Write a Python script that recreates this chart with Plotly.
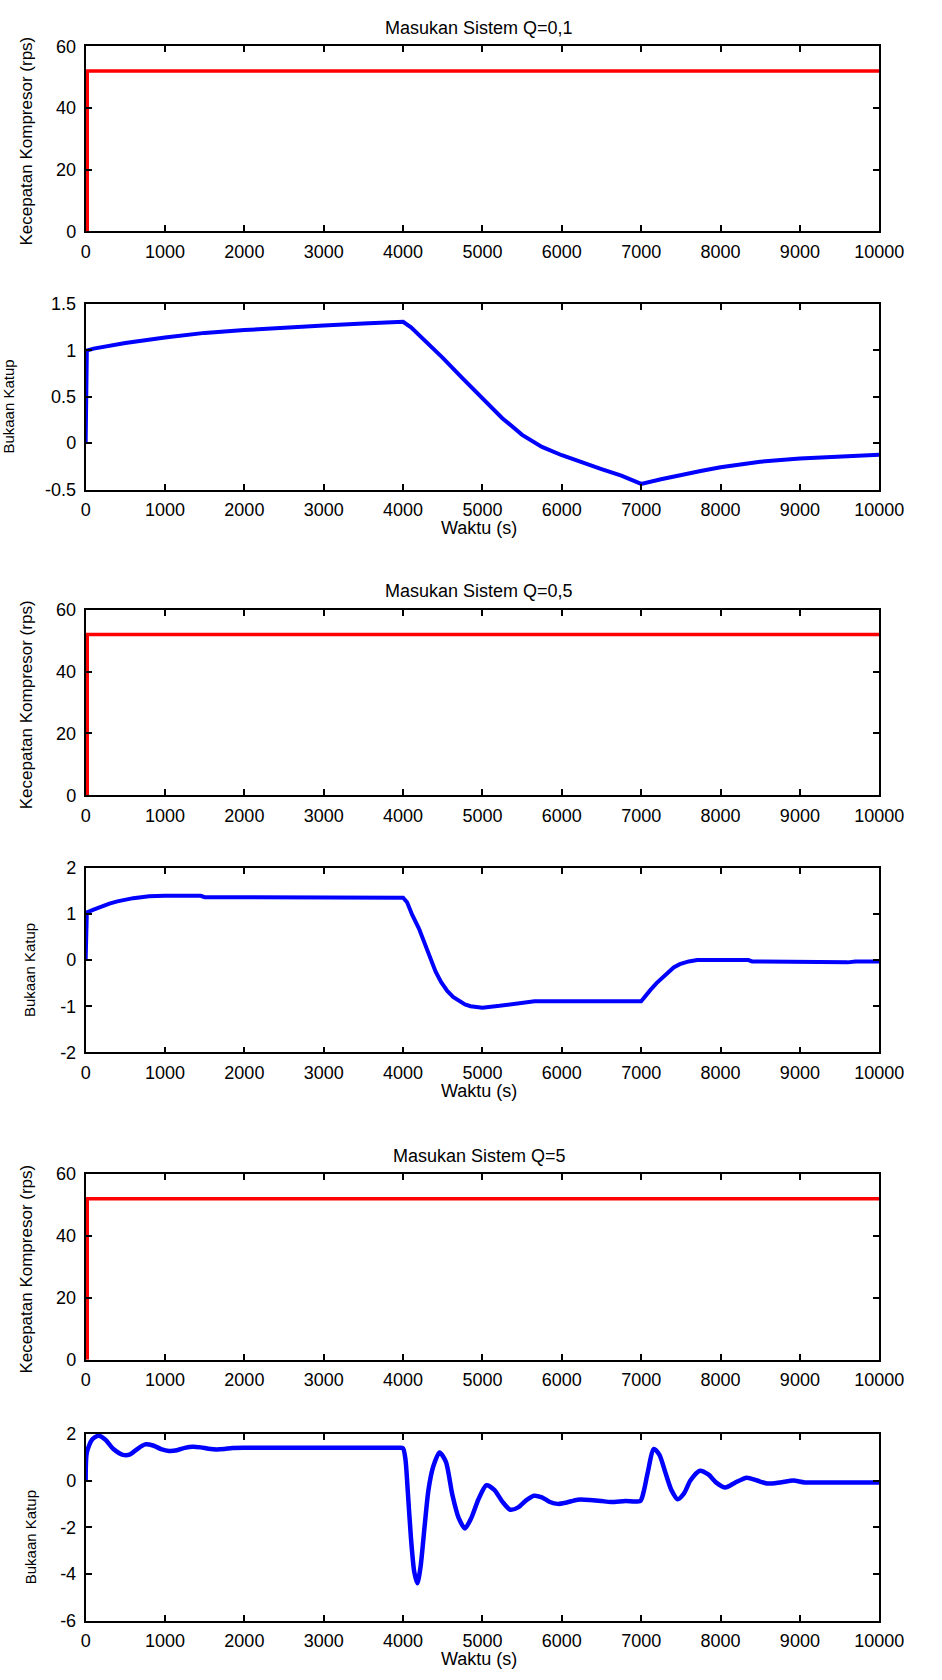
import plotly.graph_objects as go

# ---------------- data ----------------
time_ticks = [0, 1000, 2000, 3000, 4000, 5000, 6000, 7000, 8000, 9000, 10000]

# compressor speed (rps) - identical step for the three cases
t_speed = [20, 20, 10000]
speed_q01 = [0, 52, 52]
speed_q05 = [0, 52, 52]
speed_q5 = [0, 52, 52]

# valve opening, Q = 0,1
t_q01 = [0, 15, 100, 300, 500, 1000, 1500, 2000, 2500, 3000, 3500, 3950, 4000,
         4100, 4250, 4500, 4750, 5000, 5250, 5500, 5750, 6000, 6250, 6500, 6750, 7000,
         7250, 7500, 7750, 8000, 8500, 9000, 9500, 10000]
bukaan_q01 = [0, 1.0, 1.02, 1.05, 1.08, 1.14, 1.19, 1.22, 1.25, 1.27, 1.29, 1.305, 1.31,
              1.25, 1.13, 0.92, 0.70, 0.48, 0.27, 0.09, -0.04, -0.13, -0.21, -0.28, -0.35, -0.44,
              -0.39, -0.34, -0.30, -0.26, -0.20, -0.165, -0.14, -0.125]

# valve opening, Q = 0,5
t_q05 = [0, 15, 100, 200, 300, 400, 500, 600, 700, 800, 1000, 1450, 1500, 4000,
         4050, 4117, 4200, 4264, 4340, 4410, 4480, 4557, 4630, 4703, 4780, 4850, 5000,
         5216, 5436, 5656, 7000, 7048, 7120, 7194, 7270, 7340, 7410, 7487, 7600, 7707,
         8350, 8400, 9000, 9600, 9700, 10000]
bukaan_q05 = [0, 1.03, 1.09, 1.16, 1.22, 1.27, 1.31, 1.34, 1.36, 1.38, 1.39, 1.39, 1.36, 1.35,
              1.25, 0.97, 0.68, 0.40, 0.07, -0.25, -0.48, -0.67, -0.80, -0.89, -0.96, -1.0, -1.03,
              -0.99, -0.94, -0.89, -0.89, -0.78, -0.64, -0.50, -0.37, -0.25, -0.16, -0.09, -0.03, 0.0,
              0.0, -0.03, -0.05, -0.05, -0.03, -0.03]

# valve opening, Q = 5
t_q5 = [0, 15, 80, 160, 250, 350, 470, 560, 650, 750, 850, 950, 1050, 1150, 1250, 1350,
        1450, 1550, 1650, 1750, 1850, 2000, 2500, 3000, 3500, 3950, 4000, 4030, 4060, 4100,
        4140, 4180, 4220, 4270, 4320,
        4380, 4460, 4540, 4620, 4700, 4780, 4860, 4950, 5050, 5150, 5250, 5350, 5450, 5550,
        5650, 5750, 5850, 5950, 6050, 6200, 6350, 6500, 6620, 6800, 6990, 7030, 7080, 7160,
        7230, 7300, 7380, 7460, 7540, 7620, 7740, 7850, 7950, 8060, 8180, 8330, 8460, 8590,
        8750, 8920, 9060, 9500, 10000]
bukaan_q5 = [0, 1.2, 1.75, 1.92, 1.75, 1.35, 1.1, 1.12, 1.35, 1.55, 1.5, 1.35, 1.27, 1.3, 1.4, 1.45,
             1.42, 1.36, 1.33, 1.35, 1.39, 1.4, 1.4, 1.4, 1.4, 1.4, 1.38, 0.9, -0.5, -2.5,
             -3.9, -4.4, -3.7, -2.0, -0.4,
             0.6, 1.2, 0.8, -0.6, -1.6, -2.05, -1.6, -0.8, -0.2, -0.4, -0.9, -1.25, -1.15, -0.85,
             -0.65, -0.72, -0.92, -1.0, -0.95, -0.82, -0.83, -0.88, -0.92, -0.88, -0.87, -0.5, 0.3, 1.35,
             1.1, 0.4, -0.4, -0.8, -0.55, 0.0, 0.42, 0.25, -0.1, -0.3, -0.1, 0.12, 0.0, -0.13,
             -0.08, 0.0, -0.08, -0.08, -0.08]

titles = ["Masukan Sistem Q=0,1", "Masukan Sistem Q=0,5", "Masukan Sistem Q=5"]
speed_label = "Kecepatan Kompresor (rps)"
valve_label = "Bukaan Katup"
time_label = "Waktu (s)"

speed_range = [0, 60]
speed_ticks = [0, 20, 40, 60]
valve_ranges = [[-0.5, 1.5], [-2, 2], [-6, 2]]
valve_ticks = [[-0.5, 0, 0.5, 1, 1.5], [-2, -1, 0, 1, 2], [-6, -4, -2, 0, 2]]
valve_ticktext = [["-0.5", "0", "0.5", "1", "1.5"], ["-2", "-1", "0", "1", "2"], ["-6", "-4", "-2", "0", "2"]]

# ---------------- layout geometry (pixels) ----------------
W, H = 942, 1680
XL, XR = 83.3, 903.0
panels = [(36.7, 224.0), (297.7, 485.3), (607.0, 794.7), (868.0, 1055.0), (1178.0, 1366.0), (1441.0, 1630.0)]

def fx(p):
    return p / W

def fy(p):
    return 1 - p / H

FONT = "Liberation Sans, Arial, Helvetica, sans-serif"
RED = "#ff0000"
BLUE = "#0000ff"

fig = go.Figure()

speed_series = [speed_q01, speed_q05, speed_q5]
valve_series = [(t_q01, bukaan_q01, "linear"), (t_q05, bukaan_q05, "linear"), (t_q5, bukaan_q5, "spline")]

for k in range(3):
    ia = 2 * k + 1
    ib = 2 * k + 2
    fig.add_trace(go.Scatter(x=t_speed, y=speed_series[k], mode="lines",
                             line=dict(color=RED, width=3.5),
                             xaxis=f"x{ia}", yaxis=f"y{ia}", showlegend=False))
    tt, yy, shape = valve_series[k]
    line = dict(color=BLUE, width=4.5 if k == 2 else 4, shape=shape)
    if shape == "spline":
        line["smoothing"] = 0.7
    fig.add_trace(go.Scatter(x=tt, y=yy, mode="lines", line=line,
                             xaxis=f"x{ib}", yaxis=f"y{ib}", showlegend=False))

axis_common = dict(showline=True, linecolor="black", linewidth=1.8, mirror="ticks",
                   ticks="inside", ticklen=6, tickwidth=1.5, tickcolor="black",
                   showgrid=False, zeroline=False,
                   tickfont=dict(family=FONT, size=18, color="black"))

layout = dict(width=W, height=H, autosize=False,
              margin=dict(l=0, r=0, t=0, b=0, pad=0),
              paper_bgcolor="white", plot_bgcolor="rgba(0,0,0,0)",
              showlegend=False, annotations=[])

for i, (top, bot) in enumerate(panels):
    n = i + 1
    suffix = "" if n == 1 else str(n)
    layout["xaxis" + suffix] = dict(axis_common, domain=[fx(XL), fx(XR)], anchor=f"y{n}",
                                    range=[0, 10000], tickvals=time_ticks,
                                    ticktext=[str(v) for v in time_ticks],
                                    ticklabelstandoff=3)
    if i % 2 == 0:
        yr, yt, ytt = speed_range, speed_ticks, [str(v) for v in speed_ticks]
    else:
        j = i // 2
        yr, yt, ytt = valve_ranges[j], valve_ticks[j], valve_ticktext[j]
    layout["yaxis" + suffix] = dict(axis_common, domain=[fy(bot), fy(top)], anchor=f"x{n}",
                                    range=yr, tickvals=yt, ticktext=ytt,
                                    ticklabelstandoff=4)

ann = layout["annotations"]
for k in range(3):
    top_a, bot_a = panels[2 * k]
    top_b, bot_b = panels[2 * k + 1]
    # title
    ann.append(dict(text=titles[k], xref="paper", yref="paper", x=fx(490), y=fy(top_a - 18.5),
                    xanchor="center", yanchor="middle", showarrow=False,
                    font=dict(family=FONT, size=18, color="black")))
    # speed y label
    ann.append(dict(text=speed_label, xref="paper", yref="paper", x=fx(22.5), y=fy((top_a + bot_a) / 2 + 2),
                    xanchor="center", yanchor="middle", textangle=-90, showarrow=False,
                    font=dict(family=FONT, size=17, color="black")))
    # valve y label
    vx = 4 if k == 0 else 26
    ann.append(dict(text=valve_label, xref="paper", yref="paper", x=fx(vx), y=fy((top_b + bot_b) / 2 + 10),
                    xanchor="center", yanchor="middle", textangle=-90, showarrow=False,
                    font=dict(family=FONT, size=15, color="black")))
    # time label
    ann.append(dict(text=time_label, xref="paper", yref="paper", x=fx(490), y=fy(bot_b + 39),
                    xanchor="center", yanchor="middle", showarrow=False,
                    font=dict(family=FONT, size=18, color="black")))

fig.update_layout(**layout)
fig.write_html("out.html")
